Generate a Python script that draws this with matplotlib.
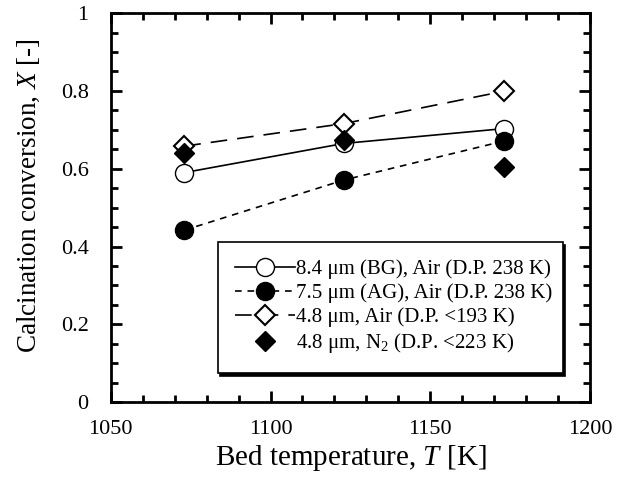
import matplotlib
matplotlib.use('Agg')
import matplotlib.pyplot as plt
from matplotlib.ticker import MultipleLocator

plt.rcParams['font.family'] = ['Liberation Serif', 'DejaVu Serif']
plt.rcParams['mathtext.fontset'] = 'custom'
plt.rcParams['mathtext.rm'] = 'Liberation Serif'
plt.rcParams['mathtext.it'] = 'Liberation Serif:italic'

# data
temp = [1073, 1123, 1173]
bg_air = [0.590, 0.665, 0.703]
ag_air = [0.442, 0.571, 0.671]
fine_air = [0.658, 0.716, 0.799]
fine_n2 = [0.640, 0.673, 0.604]

labels = ['8.4 μm (BG), Air (D.P. 238 K)',
          '7.5 μm (AG), Air (D.P. 238 K)',
          '4.8 μm, Air (D.P. <193 K)',
          '4.8 μm, N$_2$ (D.P. <223 K)']

fig = plt.figure(figsize=(6.19, 4.84), dpi=100)
ax = fig.add_axes([0.179, 0.169, 0.774, 0.804])

ax.plot(temp, bg_air, '-', color='k', lw=1.2, marker='o', ms=13,
        mfc='white', mec='k', mew=1.0, label=labels[0])
ax.plot(temp, ag_air, color='k', lw=1.2, ls=(0, (4, 3.5)), marker='o', ms=13,
        mfc='k', mec='k', label=labels[1])
ax.plot(temp, fine_air, color='k', lw=1.2, ls=(0, (10, 6)), marker='D', ms=10,
        mfc='white', mec='k', mew=1.5, label=labels[2])
ax.plot(temp, fine_n2, ls='none', marker='D', ms=10, mfc='k', mec='k',
        label=labels[3])

ax.set_xlim(1050, 1200)
ax.set_ylim(0, 1)
ax.xaxis.set_major_locator(MultipleLocator(50))
ax.xaxis.set_minor_locator(MultipleLocator(10))
ax.yaxis.set_minor_locator(MultipleLocator(0.05))
ax.set_yticks([0, 0.2, 0.4, 0.6, 0.8, 1.0])
ax.set_yticklabels(['0', '0.2', '0.4', '0.6', '0.8', '1'])

ax.tick_params(which='both', direction='in', top=True, right=True,
               width=2, labelsize=16)
ax.tick_params(which='major', length=8)
ax.tick_params(axis='x', which='major', pad=13)
ax.tick_params(axis='y', which='major', pad=16)
ax.tick_params(which='minor', length=5)
for s in ax.spines.values():
    s.set_linewidth(2)

ax.set_xlabel('Bed temperature, $\\it{T}$ [K]', fontsize=21)
ax.xaxis.set_label_coords(0.5, -0.105)
ax.set_ylabel('Calcination conversion, $\\it{X}$ [-]', fontsize=19.5)
ax.yaxis.set_label_coords(-0.144, 0.532)

leg = ax.legend(loc='lower left', bbox_to_anchor=(0.223, 0.075, 0.72, 0.34),
                mode='expand', fontsize=15, frameon=True, fancybox=False,
                edgecolor='k', handlelength=2.85, handletextpad=0.05,
                labelspacing=0.2, borderpad=0.85, borderaxespad=0,
                shadow={'color': 'black', 'alpha': 1})
leg.get_frame().set_linewidth(1.2)

fig.savefig('out.png', dpi=100)
